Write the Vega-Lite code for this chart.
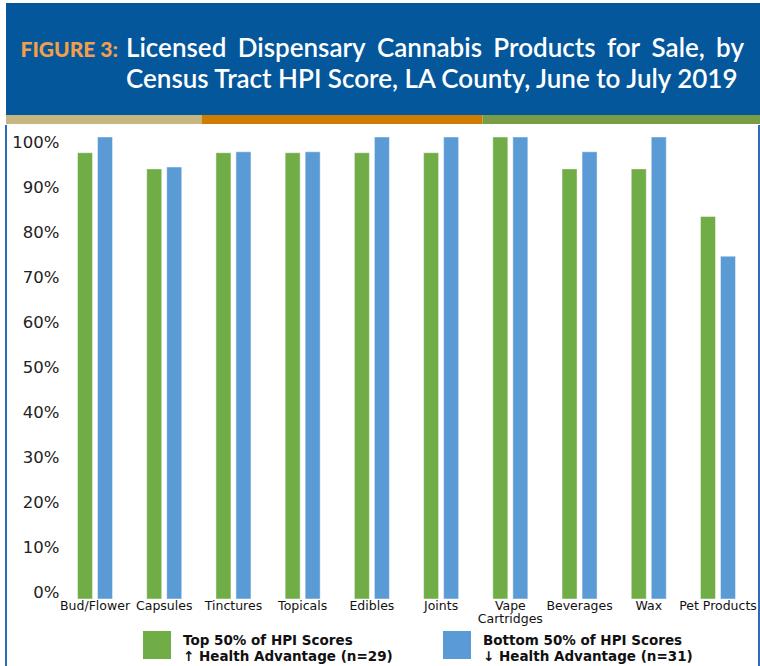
{
  "$schema": "https://vega.github.io/schema/vega-lite/v6.json",
  "background": "white",
  "padding": {"left": 5, "top": 3, "right": 0, "bottom": 0},
  "spacing": 0,
  "config": {"view": {"stroke": null}},
  "resolve": {"scale": {"color": "independent", "x": "independent", "y": "independent"}, "legend": {"color": "independent"}},
  "vconcat": [
    {
      "width": 755,
      "height": 112,
      "view": {"fill": "#04579B", "stroke": null},
      "data": {"values": [
        {"part": "figure", "line": "1", "text": "FIGURE 3:"},
        {"part": "title", "line": "1", "text": "Licensed\u2009\u200a Dispensary\u2009\u200a Cannabis\u2009\u200a Products\u2009\u200a for\u2009\u200a Sale,\u2009\u200a by"},
        {"part": "title", "line": "2", "text": "Census Tract HPI Score, LA County, June to July 2019"}
      ]},
      "encoding": {
        "x": {"field": "part", "type": "nominal", "scale": {"type": "point", "domain": ["figure", "title"], "range": [112, 120], "padding": 0}, "axis": null},
        "y": {"field": "line", "type": "ordinal", "scale": {"type": "point", "domain": ["1", "2"], "range": [54, 85], "padding": 0}, "axis": null},
        "text": {"field": "text"}
      },
      "layer": [
        {"transform": [{"filter": "datum.part == 'figure'"}],
         "mark": {"type": "text", "align": "right", "baseline": "alphabetic", "font": "Lato", "fontWeight": 900, "fontSize": 21, "color": "#F29F4C"}},
        {"transform": [{"filter": "datum.part == 'title'"}],
         "mark": {"type": "text", "align": "left", "baseline": "alphabetic", "font": "Lato", "fontWeight": 600, "fontSize": 26, "color": "#ffffff"}}
      ]
    },
    {
      "width": 755,
      "height": 9,
      "view": {"stroke": null},
      "data": {"values": [
        {"row": "stripe", "seg": "tan", "share": 25.9},
        {"row": "stripe", "seg": "orange", "share": 37.2},
        {"row": "stripe", "seg": "green", "share": 36.9}
      ]},
      "mark": {"type": "bar"},
      "encoding": {
        "x": {"field": "share", "type": "quantitative", "stack": "zero", "scale": {"domain": [0, 100], "nice": false}, "axis": null},
        "y": {"field": "row", "type": "nominal", "scale": {"paddingInner": 0, "paddingOuter": 0}, "axis": null},
        "color": {"field": "seg", "type": "nominal", "scale": {"domain": ["tan", "orange", "green"], "range": ["#C5B682", "#CF7D00", "#7A9C47"]}, "legend": null},
        "order": {"field": "seg", "sort": "descending"}
      }
    },
    {
      "width": 753,
      "height": 543,
      "view": {"fill": "white", "stroke": "#2E6DB4", "strokeWidth": 2, "strokeDash": [0, 753, 543, 753, 543, 0]},
      "data": {"values": [
        {"product": "Bud/Flower", "group": "Top 50% of HPI Scores|↑ Health Advantage (n=29)", "value": 0.966},
        {"product": "Bud/Flower", "group": "Bottom 50% of HPI Scores|↓ Health Advantage (n=31)", "value": 1.0},
        {"product": "Capsules", "group": "Top 50% of HPI Scores|↑ Health Advantage (n=29)", "value": 0.931},
        {"product": "Capsules", "group": "Bottom 50% of HPI Scores|↓ Health Advantage (n=31)", "value": 0.935},
        {"product": "Tinctures", "group": "Top 50% of HPI Scores|↑ Health Advantage (n=29)", "value": 0.966},
        {"product": "Tinctures", "group": "Bottom 50% of HPI Scores|↓ Health Advantage (n=31)", "value": 0.968},
        {"product": "Topicals", "group": "Top 50% of HPI Scores|↑ Health Advantage (n=29)", "value": 0.966},
        {"product": "Topicals", "group": "Bottom 50% of HPI Scores|↓ Health Advantage (n=31)", "value": 0.968},
        {"product": "Edibles", "group": "Top 50% of HPI Scores|↑ Health Advantage (n=29)", "value": 0.966},
        {"product": "Edibles", "group": "Bottom 50% of HPI Scores|↓ Health Advantage (n=31)", "value": 1.0},
        {"product": "Joints", "group": "Top 50% of HPI Scores|↑ Health Advantage (n=29)", "value": 0.966},
        {"product": "Joints", "group": "Bottom 50% of HPI Scores|↓ Health Advantage (n=31)", "value": 1.0},
        {"product": "Vape Cartridges", "group": "Top 50% of HPI Scores|↑ Health Advantage (n=29)", "value": 1.0},
        {"product": "Vape Cartridges", "group": "Bottom 50% of HPI Scores|↓ Health Advantage (n=31)", "value": 1.0},
        {"product": "Beverages", "group": "Top 50% of HPI Scores|↑ Health Advantage (n=29)", "value": 0.931},
        {"product": "Beverages", "group": "Bottom 50% of HPI Scores|↓ Health Advantage (n=31)", "value": 0.968},
        {"product": "Wax", "group": "Top 50% of HPI Scores|↑ Health Advantage (n=29)", "value": 0.931},
        {"product": "Wax", "group": "Bottom 50% of HPI Scores|↓ Health Advantage (n=31)", "value": 1.0},
        {"product": "Pet Products", "group": "Top 50% of HPI Scores|↑ Health Advantage (n=29)", "value": 0.828},
        {"product": "Pet Products", "group": "Bottom 50% of HPI Scores|↓ Health Advantage (n=31)", "value": 0.742}
      ]},
      "resolve": {"scale": {"y": "independent"}},
      "layer": [
        {
          "mark": {"type": "bar", "stroke": "#ffffff", "strokeOpacity": 0.45, "strokeWidth": 1},
          "encoding": {
            "x": {"field": "product", "type": "nominal", "sort": null,
                  "scale": {"range": [54.4, 746.6], "paddingInner": 0.494, "paddingOuter": 0.247},
                  "axis": {"title": null, "orient": "bottom", "offset": -69, "domain": false, "ticks": false, "grid": false,
                           "labelPadding": 0, "labelAngle": 0, "labelBaseline": "top", "labelFont": "DejaVu Sans", "labelFontSize": 12.5,
                           "labelColor": "#111111", "labelLimit": 0, "labelOverlap": false, "labelLineHeight": 13.5,
                           "labelExpr": "datum.label == 'Vape Cartridges' ? ['Vape', 'Cartridges'] : datum.label"}},
            "xOffset": {"field": "group", "type": "nominal", "sort": null, "scale": {"paddingInner": 0.25, "paddingOuter": 0}},
            "y": {"field": "value", "type": "quantitative", "scale": {"domain": [-0.1494, 1.026], "nice": false, "zero": false}, "axis": null},
            "color": {"field": "group", "type": "nominal", "sort": null,
                      "scale": {"domain": ["Top 50% of HPI Scores|↑ Health Advantage (n=29)", "Bottom 50% of HPI Scores|↓ Health Advantage (n=31)"], "range": ["#70AD47", "#5B9BD5"]},
                      "legend": {"orient": "none", "legendX": 137, "legendY": 506, "direction": "horizontal", "title": null, "padding": 0,
                                 "symbolType": "square", "symbolSize": 784, "symbolStrokeWidth": 0, "symbolOpacity": 1,
                                 "labelFont": "DejaVu Sans", "labelFontWeight": "bold", "labelFontSize": 13.5, "labelColor": "#111111",
                                 "labelOffset": 12, "labelLimit": 0, "columnPadding": 50, "labelBaseline": "alphabetic",
                                 "labelExpr": "split(datum.label, '|')"}}
          }
        },
        {
          "mark": {"type": "point", "opacity": 0},
          "encoding": {
            "y": {"field": "value", "type": "quantitative", "scale": {"domain": [-0.1663, 1.0377], "nice": false, "zero": false},
                  "axis": {"orient": "left", "offset": -53, "title": null, "domain": false, "ticks": false, "grid": false, "labelPadding": 0,
                           "values": [0, 0.1, 0.2, 0.3, 0.4, 0.5, 0.6, 0.7, 0.8, 0.9, 1.0], "format": ".0%",
                           "labelFont": "DejaVu Sans", "labelFontSize": 16.5, "labelColor": "#222222"}}
          }
        }
      ]
    }
  ]
}
